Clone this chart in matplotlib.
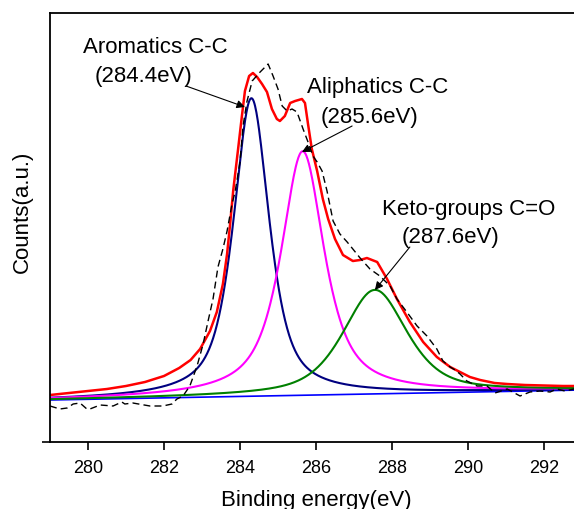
import numpy as np
import matplotlib
matplotlib.use("Agg")
import matplotlib.pyplot as plt

plt.rcParams['font.family'] = ['Liberation Sans', 'DejaVu Sans']

# raw spectrum (dashed)
raw_energy = [279.00, 279.26, 279.45, 279.61, 279.79, 279.97, 280.05, 280.32, 280.66, 280.89,
              280.97, 281.18, 281.63, 281.97, 282.21, 282.34, 282.50, 282.68, 282.87, 283.03,
              283.16, 283.29, 283.42, 283.55, 283.66, 283.79, 283.87, 284.00, 284.08, 284.18,
              284.32, 284.53, 284.74, 284.87, 285.00, 285.11, 285.24, 285.37, 285.50, 285.66,
              285.79, 285.92, 286.03, 286.16, 286.29, 286.45, 286.63, 286.82, 286.97, 287.16,
              287.42, 287.68, 287.95, 288.13, 288.39, 288.66, 288.92, 289.18, 289.34, 289.53,
              289.66, 289.79, 289.97, 290.24, 290.50, 290.71, 291.03, 291.37, 291.63, 291.89,
              292.16, 292.34, 292.55, 292.79, 293.00]
raw_counts = [36, 33, 34, 38, 39, 33, 33, 37, 36, 40,
              38, 39, 36, 36, 38, 43, 46, 56, 76, 98,
              121, 143, 175, 193, 211, 238, 250, 280, 316, 340,
              361, 370, 378, 366, 353, 336, 331, 333, 330, 313,
              300, 286, 280, 271, 251, 221, 208, 200, 193, 184,
              173, 166, 156, 143, 130, 116, 106, 93, 81, 75,
              72, 68, 61, 56, 56, 49, 53, 46, 50, 51,
              50, 53, 51, 53, 53]

# envelope (red)
env_energy = [279.00, 279.50, 280.00, 280.50, 281.00, 281.50, 282.00, 282.40, 282.70, 282.95,
              283.21, 283.39, 283.55, 283.66, 283.74, 283.82, 283.95, 284.05, 284.13, 284.24,
              284.34, 284.45, 284.58, 284.71, 284.84, 284.97, 285.05, 285.18, 285.32, 285.45,
              285.63, 285.71, 285.79, 285.89, 286.03, 286.18, 286.32, 286.50, 286.71, 286.97,
              287.16, 287.34, 287.61, 287.87, 288.13, 288.47, 288.82, 289.18, 289.53, 289.79,
              290.05, 290.32, 290.70, 291.03, 291.50, 292.00, 292.50, 293.00]
env_counts = [47, 49, 51, 53, 56, 60, 66, 74, 82, 93,
              111, 130, 158, 188, 218, 251, 293, 326, 351, 366,
              369, 365, 358, 350, 333, 323, 321, 326, 339, 341,
              343, 339, 318, 293, 271, 243, 223, 203, 187, 181,
              182, 184, 180, 163, 143, 120, 100, 85, 75, 70,
              65, 62, 59, 58, 57, 56.5, 56, 56]

# fitted components: aromatic C-C, aliphatic C-C, C=O
peak_centers = [284.3, 285.65, 287.55]
peak_heights = [298, 244, 104]
peak_hwhm = [0.56, 0.68, 1.0]
peak_lorentz = [0.7, 0.8, 0.6]
peak_colors = ['#000080', '#FF00FF', '#008000']

baseline_energy = [279.0, 293.0]
baseline_counts = [42, 52]

x_ticks = [280, 282, 284, 286, 288, 290, 292]

label_lines = [("Aromatics C-C", 281.76, 390), ("(284.4eV)", 281.46, 361),
               ("Aliphatics C-C", 287.61, 350), ("(285.6eV)", 287.42, 320),
               ("Keto-groups C=O", 290.01, 228), ("(287.6eV)", 289.53, 200)]
arrows = [((282.58, 356), (284.13, 335)),
          ((286.95, 316), (285.63, 290)),
          ((288.47, 195), (287.55, 152))]


def pseudo_voigt(x, center, height, hwhm, frac):
    lor = hwhm ** 2 / ((x - center) ** 2 + hwhm ** 2)
    gau = np.exp(-np.log(2) * (x - center) ** 2 / hwhm ** 2)
    return height * (frac * lor + (1 - frac) * gau)


fig = plt.figure(figsize=(5.74, 5.10), dpi=100)
ax = fig.add_axes([50 / 574, 67 / 510, 532 / 574, 429 / 510])

grid = np.linspace(279, 293, 800)
base = np.interp(grid, baseline_energy, baseline_counts)

ax.plot(baseline_energy, baseline_counts, color='#0000FF', lw=1.2)
for c, h, w, m, col in zip(peak_centers, peak_heights, peak_hwhm, peak_lorentz, peak_colors):
    ax.plot(grid, base + pseudo_voigt(grid, c, h, w, m), color=col, lw=1.5)
ax.plot(env_energy, env_counts, color='#FF0000', lw=1.8)
ax.plot(raw_energy, raw_counts, color='black', lw=1.0, ls=(0, (5, 3)))

for text, x, y in label_lines:
    ax.text(x, y, text, ha='center', va='baseline', fontsize=16)
for tail, head in arrows:
    ax.annotate('', xy=head, xytext=tail,
                arrowprops=dict(arrowstyle='-|>', color='black', lw=0.8,
                                mutation_scale=12, shrinkA=0, shrinkB=0))

ax.set_xlim(279, 293)
ax.set_ylim(0, 429)
ax.set_xticks(x_ticks)
ax.set_yticks([0])
ax.set_yticklabels([''])
ax.tick_params(direction='out', length=6, width=1.2, labelsize=13, pad=6)
for side in ['left', 'bottom', 'top', 'right']:
    ax.spines[side].set_linewidth(1.3)

fig.text(22 / 574, 1 - 212 / 510, "Counts(a.u.)", rotation=90,
         ha='center', va='center', fontsize=16)
fig.text(316 / 574, 4 / 510, "Binding energy(eV)", ha='center', va='baseline', fontsize=16)

fig.savefig('out.png', dpi=100)
